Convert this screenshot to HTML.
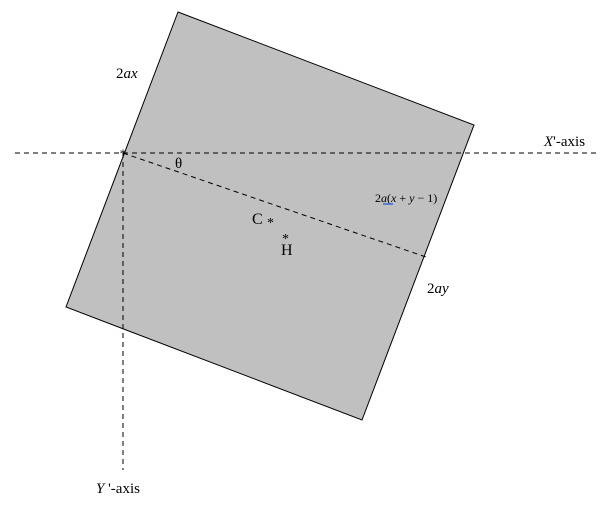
<!DOCTYPE html>
<html><head><style>
body{margin:0;background:#fff;}
svg text{font-family:"Liberation Serif",serif;}
</style></head><body>
<svg width="609" height="508" viewBox="0 0 609 508" xmlns="http://www.w3.org/2000/svg">
<polygon points="178,12 474,125 362,420 66,307" fill="#c0c0c0" stroke="#000" stroke-width="1"/>
<line x1="15" y1="153" x2="596" y2="153" stroke="#000" stroke-dasharray="5,4"/>
<line x1="123" y1="153" x2="123" y2="470" stroke="#000" stroke-dasharray="5,4"/>
<line x1="123" y1="153" x2="426" y2="257" stroke="#000" stroke-dasharray="5,4"/>
<text x="123" y="158" font-size="13" text-anchor="middle">*</text>
<text x="116" y="78" font-size="15">2<tspan font-style="italic">ax</tspan></text>
<text x="175" y="168" font-size="15">θ</text>
<text x="544" y="146" font-size="15"><tspan font-style="italic">X</tspan>'-axis</text>
<text x="96" y="493" font-size="15"><tspan font-style="italic">Y</tspan> '-axis</text>
<text x="427" y="293" font-size="15">2<tspan font-style="italic">ay</tspan></text>
<text x="375" y="202" font-size="12">2<tspan font-style="italic">a</tspan>(<tspan font-style="italic">x</tspan> + <tspan font-style="italic">y</tspan> − 1)</text>
<line x1="383" y1="204" x2="393" y2="204" stroke="#3366dd" stroke-width="1.5"/>
<text x="252" y="224" font-size="16">C</text>
<text x="267" y="227" font-size="14">*</text>
<text x="282" y="243" font-size="14">*</text>
<text x="281" y="255" font-size="16">H</text>
</svg>
</body></html>
